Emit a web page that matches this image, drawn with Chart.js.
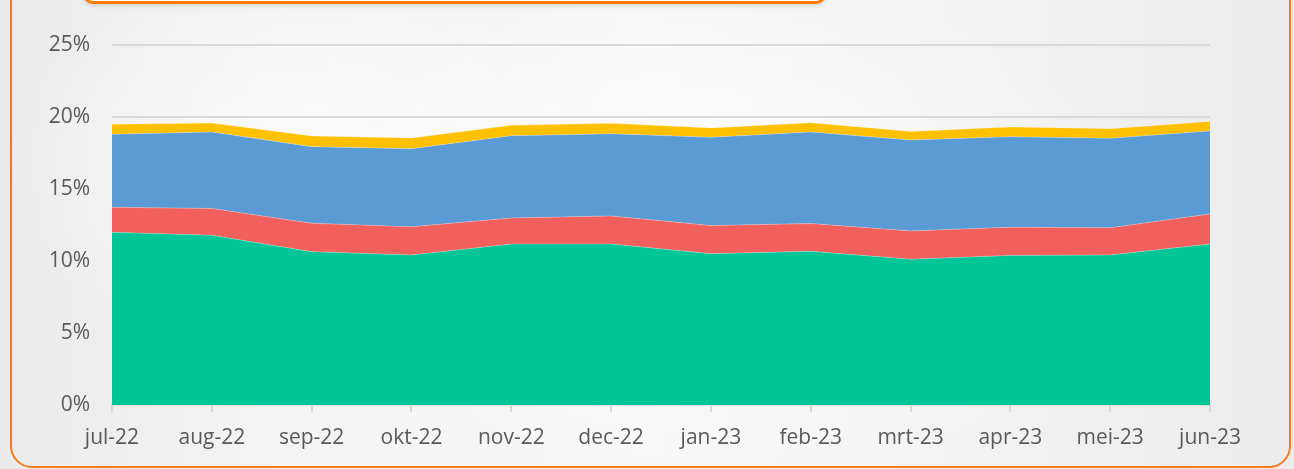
<!DOCTYPE html>
<html>
<head>
<meta charset="utf-8">
<script src="https://cdn.jsdelivr.net/npm/chart.js@4.4.0/dist/chart.umd.min.js"></script>
<style>
    html, body {
        margin: 0;
        padding: 0;
        width: 1294px;
        height: 469px;
        overflow: hidden;
        font-family: "Open Sans", sans-serif;
    }
    body {
        position: relative;
        background:
            radial-gradient(ellipse 420px 260px at 720px 230px, rgba(255,255,255,0.85), rgba(255,255,255,0) 100%),
            radial-gradient(ellipse 300px 200px at 300px 160px, rgba(255,255,255,0.7), rgba(255,255,255,0) 100%),
            linear-gradient(90deg, #ebebeb 0%, #f3f3f3 20%, #f7f7f7 50%, #f1f1f1 80%, #ececec 100%);
    }
    .frame {
        position: absolute;
        left: 10px;
        top: -30px;
        width: 1281px;
        height: 498px;
        border: 2px solid #f47b20;
        border-radius: 22px;
        box-sizing: border-box;
    }
    .title-box {
        position: absolute;
        left: 83px;
        top: -40px;
        width: 743px;
        height: 44px;
        border: 3px solid #ff7a00;
        border-radius: 10px;
        background: #ffffff;
        box-sizing: border-box;
        box-shadow: 0 2px 4px rgba(0,0,0,0.12);
    }
    #chartWrap {
        position: absolute;
        left: 0;
        top: 0;
        width: 1294px;
        height: 469px;
    }
</style>
</head>
<body>
<div class="frame"></div>
<div class="title-box"></div>
<div id="chartWrap"><canvas id="chart"></canvas></div>
<script>
const months = ['jul-22', 'aug-22', 'sep-22', 'okt-22', 'nov-22', 'dec-22',
                'jan-23', 'feb-23', 'mrt-23', 'apr-23', 'mei-23', 'jun-23'];

// waarden in procenten, gestapeld van onder naar boven
const groen = [11.99, 11.78, 10.65, 10.42, 11.18, 11.18, 10.51, 10.67, 10.12, 10.39, 10.42, 11.18];
const rood  = [1.74, 1.87, 1.97, 1.96, 1.81, 1.95, 1.95, 1.93, 1.97, 1.96, 1.89, 2.09];
const blauw = [5.07, 5.31, 5.32, 5.42, 5.71, 5.71, 6.13, 6.36, 6.31, 6.28, 6.21, 5.76];
const geel  = [0.69, 0.62, 0.74, 0.74, 0.72, 0.72, 0.65, 0.64, 0.60, 0.68, 0.67, 0.66];

const yTicks = [0, 5, 10, 15, 20, 25];

const area = (data, color, fill) => ({
    data: data,
    backgroundColor: color,
    borderColor: 'rgba(255,255,255,0.25)',
    borderWidth: 1,
    pointRadius: 0,
    tension: 0,
    fill: fill
});

const ctx = document.getElementById('chart').getContext('2d');

new Chart(ctx, {
    type: 'line',
    data: {
        labels: months,
        datasets: [
            area(groen, '#02c697', 'origin'),
            area(rood, '#f2605d', '-1'),
            area(blauw, '#5b9bd5', '-1'),
            area(geel, '#ffc000', '-1')
        ]
    },
    options: {
        responsive: true,
        maintainAspectRatio: false,
        animation: false,
        layout: {
            padding: { top: 45, right: 84, bottom: 0, left: 0 }
        },
        plugins: {
            legend: { display: false },
            tooltip: { enabled: false }
        },
        scales: {
            x: {
                offset: false,
                grid: {
                    drawOnChartArea: false,
                    drawTicks: true,
                    tickLength: 7,
                    color: '#d9d9d9',
                    lineWidth: 2
                },
                border: { color: '#d9d9d9', width: 2 },
                ticks: {
                    color: '#595959',
                    font: { family: 'Open Sans', size: 21 },
                    padding: 13,
                    maxRotation: 0,
                    autoSkip: false
                },
                afterFit: (scale) => { scale.height = 64; }
            },
            y: {
                stacked: true,
                min: 0,
                max: 25,
                afterBuildTicks: (scale) => {
                    scale.ticks = yTicks.map(v => ({ value: v }));
                },
                grid: {
                    drawTicks: false,
                    color: '#d9d9d9',
                    lineWidth: 2
                },
                border: { display: false },
                ticks: {
                    color: '#595959',
                    font: { family: 'Open Sans', size: 21 },
                    padding: 22,
                    callback: (v) => v + '%'
                },
                afterFit: (scale) => { scale.width = 112; }
            }
        }
    }
});
</script>
</body>
</html>
